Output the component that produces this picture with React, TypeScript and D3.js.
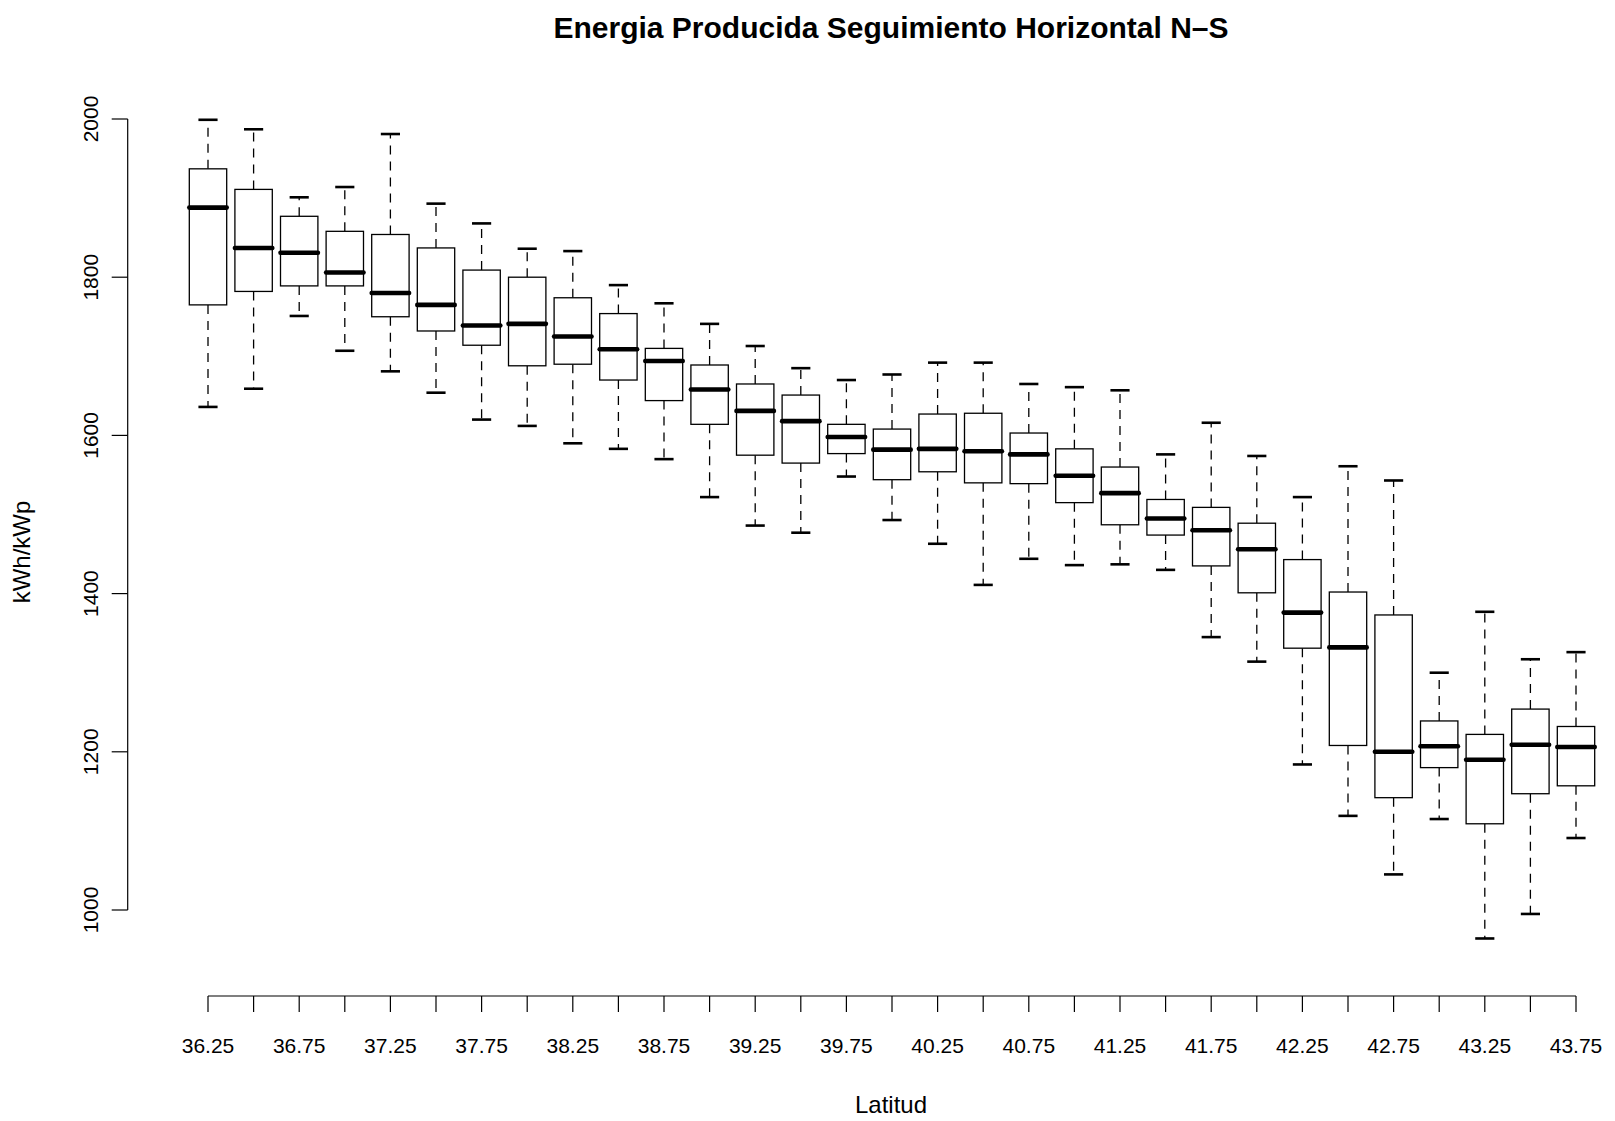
import React from "react";
import * as d3 from "d3";

const latitudes = [
  "36.25", "36.5", "36.75", "37", "37.25", "37.5", "37.75", "38", "38.25", "38.5",
  "38.75", "39", "39.25", "39.5", "39.75", "40", "40.25", "40.5", "40.75", "41",
  "41.25", "41.5", "41.75", "42", "42.25", "42.5", "42.75", "43", "43.25", "43.5", "43.75",
];
const tickLabels = [
  "36.25", "", "36.75", "", "37.25", "", "37.75", "", "38.25", "", "38.75", "", "39.25", "",
  "39.75", "", "40.25", "", "40.75", "", "41.25", "", "41.75", "", "42.25", "", "42.75", "",
  "43.25", "", "43.75",
];
const whiskerLow = [1636, 1659, 1751, 1707, 1681, 1654, 1620, 1612, 1590, 1583, 1570, 1522, 1486, 1477, 1548, 1493, 1463, 1411, 1444, 1436, 1437, 1430, 1345, 1314, 1184, 1119, 1045, 1115, 964, 995, 1091];
const q1 = [1765, 1782, 1789, 1789, 1750, 1732, 1714, 1688, 1690, 1670, 1644, 1614, 1575, 1565, 1577, 1544, 1554, 1540, 1539, 1515, 1487, 1474, 1435, 1401, 1331, 1208, 1142, 1180, 1109, 1147, 1157];
const medians = [1888, 1837, 1831, 1806, 1780, 1765, 1739, 1741, 1725, 1709, 1694, 1658, 1631, 1618, 1598, 1582, 1583, 1580, 1576, 1549, 1527, 1495, 1480, 1456, 1376, 1332, 1200, 1207, 1190, 1209, 1206];
const q3 = [1937, 1911, 1877, 1858, 1854, 1837, 1809, 1800, 1774, 1754, 1710, 1689, 1665, 1651, 1614, 1608, 1627, 1628, 1603, 1583, 1560, 1519, 1509, 1489, 1443, 1402, 1373, 1239, 1222, 1254, 1232];
const whiskerHigh = [1999, 1987, 1901, 1914, 1981, 1893, 1868, 1836, 1833, 1790, 1767, 1741, 1713, 1685, 1670, 1677, 1692, 1692, 1665, 1661, 1657, 1576, 1616, 1574, 1522, 1561, 1543, 1300, 1377, 1317, 1326];
const yTicks = [1000, 1200, 1400, 1600, 1800, 2000];

const W = 1615;
const H = 1121;
const FONT = "'Liberation Sans', Arial, Helvetica, sans-serif";

export default function App() {
  const x = d3.scaleLinear().domain([1, latitudes.length]).range([208, 1576]);
  const y = d3.scaleLinear().domain([1000, 2000]).range([910, 119]);
  const unit = x(2) - x(1);
  const boxHalf = unit * 0.41;
  const capHalf = unit * 0.21;
  const axisY = 996;
  const axisX = 127.7;
  const tickLen = 16;

  const boxes = latitudes.map((lat, i) => ({
    lat,
    cx: x(i + 1),
    lo: whiskerLow[i],
    q1: q1[i],
    med: medians[i],
    q3: q3[i],
    hi: whiskerHigh[i],
  }));

  return (
    <svg
      width={W}
      height={H}
      viewBox={`0 0 ${W} ${H}`}
      style={{ position: "absolute", left: 0, top: 0, background: "#fff" }}
      fontFamily={FONT}
    >
      <rect x={0} y={0} width={W} height={H} fill="#fff" />
      <text x={891} y={38} textAnchor="middle" fontSize={30} fontWeight="bold" fill="#000">
        Energia Producida Seguimiento Horizontal N–S
      </text>

      {boxes.map((b, i) => (
        <g key={i} stroke="#000" fill="none">
          <line
            x1={b.cx}
            x2={b.cx}
            y1={y(b.q3)}
            y2={y(b.hi)}
            strokeWidth={1.3}
            strokeDasharray="9,7"
          />
          <line
            x1={b.cx}
            x2={b.cx}
            y1={y(b.q1)}
            y2={y(b.lo)}
            strokeWidth={1.3}
            strokeDasharray="9,7"
          />
          <line x1={b.cx - capHalf} x2={b.cx + capHalf} y1={y(b.hi)} y2={y(b.hi)} strokeWidth={2.6} />
          <line x1={b.cx - capHalf} x2={b.cx + capHalf} y1={y(b.lo)} y2={y(b.lo)} strokeWidth={2.6} />
          <rect
            x={b.cx - boxHalf}
            y={y(b.q3)}
            width={boxHalf * 2}
            height={y(b.q1) - y(b.q3)}
            fill="#fff"
            strokeWidth={1.3}
          />
          <line
            x1={b.cx - boxHalf}
            x2={b.cx + boxHalf}
            y1={y(b.med)}
            y2={y(b.med)}
            strokeWidth={4.6}
            strokeLinecap="round"
          />
        </g>
      ))}

      {/* Y axis */}
      <g stroke="#000" strokeWidth={1.2}>
        <line x1={axisX} x2={axisX} y1={y(2000)} y2={y(1000)} />
        {yTicks.map((t) => (
          <line key={t} x1={axisX - tickLen} x2={axisX} y1={y(t)} y2={y(t)} />
        ))}
      </g>
      {yTicks.map((t) => (
        <text
          key={t}
          transform={`translate(98,${y(t)}) rotate(-90)`}
          textAnchor="middle"
          fontSize={21}
          fill="#000"
        >
          {t}
        </text>
      ))}

      {/* X axis */}
      <g stroke="#000" strokeWidth={1.2}>
        <line x1={x(1)} x2={x(latitudes.length)} y1={axisY} y2={axisY} />
        {latitudes.map((lat, i) => (
          <line key={lat} x1={x(i + 1)} x2={x(i + 1)} y1={axisY} y2={axisY + tickLen} />
        ))}
      </g>
      {tickLabels.map((lab, i) =>
        lab ? (
          <text key={i} x={x(i + 1)} y={1053} textAnchor="middle" fontSize={21} fill="#000">
            {lab}
          </text>
        ) : null
      )}

      <text x={891} y={1113} textAnchor="middle" fontSize={24} fill="#000">
        Latitud
      </text>
      <text transform={`translate(30,552) rotate(-90)`} textAnchor="middle" fontSize={24} fill="#000">
        kWh/kWp
      </text>
    </svg>
  );
}
